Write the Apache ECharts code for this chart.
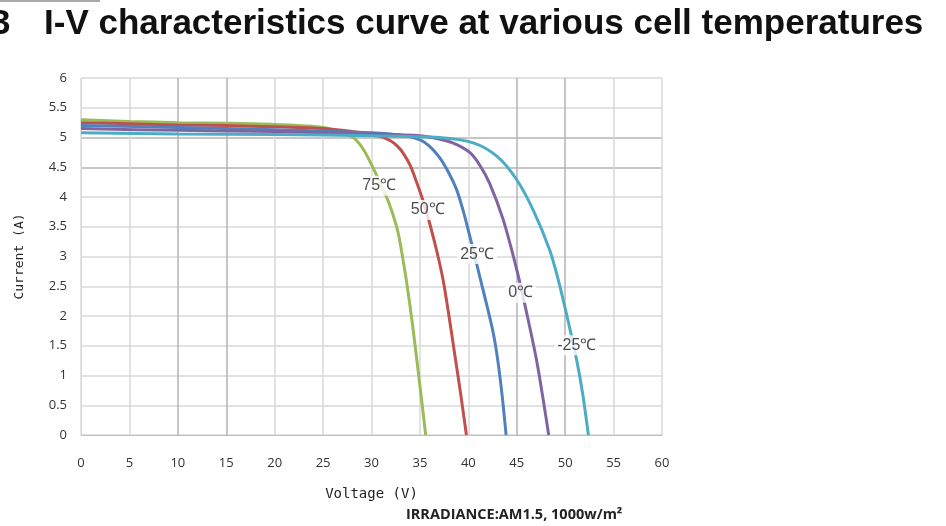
<!DOCTYPE html>
<html>
<head>
<meta charset="utf-8">
<script src="https://cdn.jsdelivr.net/npm/echarts@6/dist/echarts.min.js"></script>
<style>
  html, body { margin: 0; padding: 0; background: #fff; }
  #main { width: 946px; height: 526px; }
</style>
</head>
<body>
<div id="main"></div>
<script>
// I-V curves (voltage V, current A)
const temps = ['75℃', '50℃', '25℃', '0℃', '-25℃'];
const colors = ['#9BBB59', '#C0504D', '#4F81BD', '#8064A2', '#4BACC6'];

const v75 = [0, 5, 10, 15, 20, 25, 27, 28.2, 29.2, 30.1, 31, 31.8, 32.6, 32.9, 33.2, 33.6, 34.2, 34.8, 35.2, 35.6];
const i75 = [5.30, 5.27, 5.25, 5.24, 5.22, 5.17, 5.08, 4.99, 4.79, 4.51, 4.2, 3.9, 3.5, 3.28, 3.0, 2.6, 1.9, 1.1, 0.55, 0];

const v50 = [0, 5, 10, 15, 20, 25, 28, 30.9, 32, 32.7, 33.3, 34, 34.7, 35.4, 36.1, 36.8, 37.4, 38.0, 38.6, 39.2, 39.8];
const i50 = [5.25, 5.23, 5.21, 5.2, 5.18, 5.15, 5.1, 5.02, 4.94, 4.85, 4.73, 4.53, 4.23, 3.9, 3.5, 3.05, 2.6, 2.0, 1.35, 0.7, 0];

const v25 = [0, 10, 20, 30, 33, 35, 36, 37, 38, 38.8, 39.5, 40.2, 41.2, 42.5, 43.0, 43.5, 43.9];
const i25 = [5.2, 5.17, 5.13, 5.08, 5.04, 4.96, 4.85, 4.67, 4.4, 4.12, 3.75, 3.31, 2.65, 1.77, 1.3, 0.65, 0];

const v0 = [0, 10, 20, 30, 35, 37.1, 38.8, 40.2, 41.2, 42.2, 43.6, 45, 46, 47.1, 48.3];
const i0 = [5.15, 5.12, 5.1, 5.06, 5.03, 4.97, 4.88, 4.74, 4.53, 4.23, 3.62, 2.78, 2.07, 1.21, 0];

const vm25 = [0, 10, 20, 30, 37, 40.5, 43, 45, 46.7, 48.4, 49.3, 50.3, 51.2, 51.8, 52.4];
const im25 = [5.08, 5.06, 5.05, 5.03, 5.0, 4.91, 4.68, 4.29, 3.78, 3.11, 2.6, 1.92, 1.25, 0.7, 0];

const curveV = [v75, v50, v25, v0, vm25];
const curveI = [i75, i50, i25, i0, im25];

// where the temperature tags sit
const tagV = [30.8, 35.8, 40.9, 45.4, 51.2];
const tagI = [4.19, 3.78, 3.04, 2.39, 1.51];

const xTicks = { min: 0, max: 60, interval: 5 };
const yTicks = { min: 0, max: 6, interval: 0.5 };

const chart = echarts.init(document.getElementById('main'), null, { renderer: 'canvas' });

const lineSeries = temps.map(function (t, k) {
  return {
    name: t,
    type: 'line',
    smooth: 0.3,
    showSymbol: false,
    lineStyle: { width: 3, color: colors[k] },
    data: curveV[k].map(function (v, j) { return [v, curveI[k][j]]; }),
    z: 2
  };
});

const light = '#d9d9d9', dark = '#b3b3b3';

chart.setOption({
  animation: false,
  grid: { left: 81, right: 284, top: 78, bottom: 91 },
  graphic: [
    { type: 'line', shape: { x1: 0, y1: 1, x2: 100, y2: 1 }, style: { stroke: '#aaa', lineWidth: 2 } },
    { type: 'text', left: -9, top: 7, style: { text: '3', font: 'bold 35px "Liberation Sans", Arial', fill: '#111' } },
    { type: 'text', left: 44, top: 7, style: { text: 'I-V characteristics curve at various cell temperatures', font: 'bold 35px "Liberation Sans", Arial', fill: '#111' } },
    { type: 'text', left: 406, top: 507, style: { text: 'IRRADIANCE:AM1.5, 1000w/m²', font: 'bold 14.5px "Open Sans", "Noto Sans"', fill: '#222' } }
  ],
  xAxis: {
    type: 'value',
    min: xTicks.min, max: xTicks.max, interval: xTicks.interval,
    name: 'Voltage (V)',
    nameLocation: 'middle',
    nameGap: 52,
    nameTextStyle: { fontFamily: '"DejaVu Sans Mono"', fontSize: 14, color: '#222' },
    axisLine: { lineStyle: { color: '#bfbfbf', width: 1 } },
    axisTick: { show: false },
    axisLabel: { margin: 22, fontSize: 13, color: '#333', fontFamily: '"Open Sans", "Noto Sans"' },
    splitLine: { lineStyle: { color: [light, light, dark, dark, light, light, light, light, light, dark, dark, light, light], width: 1.5 } }
  },
  yAxis: {
    type: 'value',
    min: yTicks.min, max: yTicks.max, interval: yTicks.interval,
    name: 'Current (A)',
    nameLocation: 'middle',
    nameRotate: 90,
    nameGap: 55,
    nameTextStyle: { fontFamily: '"DejaVu Sans Mono"', fontSize: 13, color: '#222' },
    axisLine: { show: true, lineStyle: { color: light } },
    axisTick: { show: false },
    axisLabel: { margin: 14, fontSize: 13, color: '#333', fontFamily: '"Open Sans", "Noto Sans"' },
    splitLine: { lineStyle: { color: [light, light, light, light, light, light, light, light, light, dark, dark, light, light], width: 1.5 } }
  },
  series: lineSeries.concat([{
    type: 'scatter',
    symbolSize: 0,
    z: 5,
    data: tagV.map(function (v, k) { return [v, tagI[k], temps[k]]; }),
    label: {
      show: true,
      position: 'inside',
      formatter: function (p) { return p.data[2]; },
      fontFamily: '"Liberation Sans", Arial',
      fontSize: 16,
      color: '#222',
      backgroundColor: '#fff',
      padding: [2, 3]
    }
  }])
});
</script>
</body>
</html>
